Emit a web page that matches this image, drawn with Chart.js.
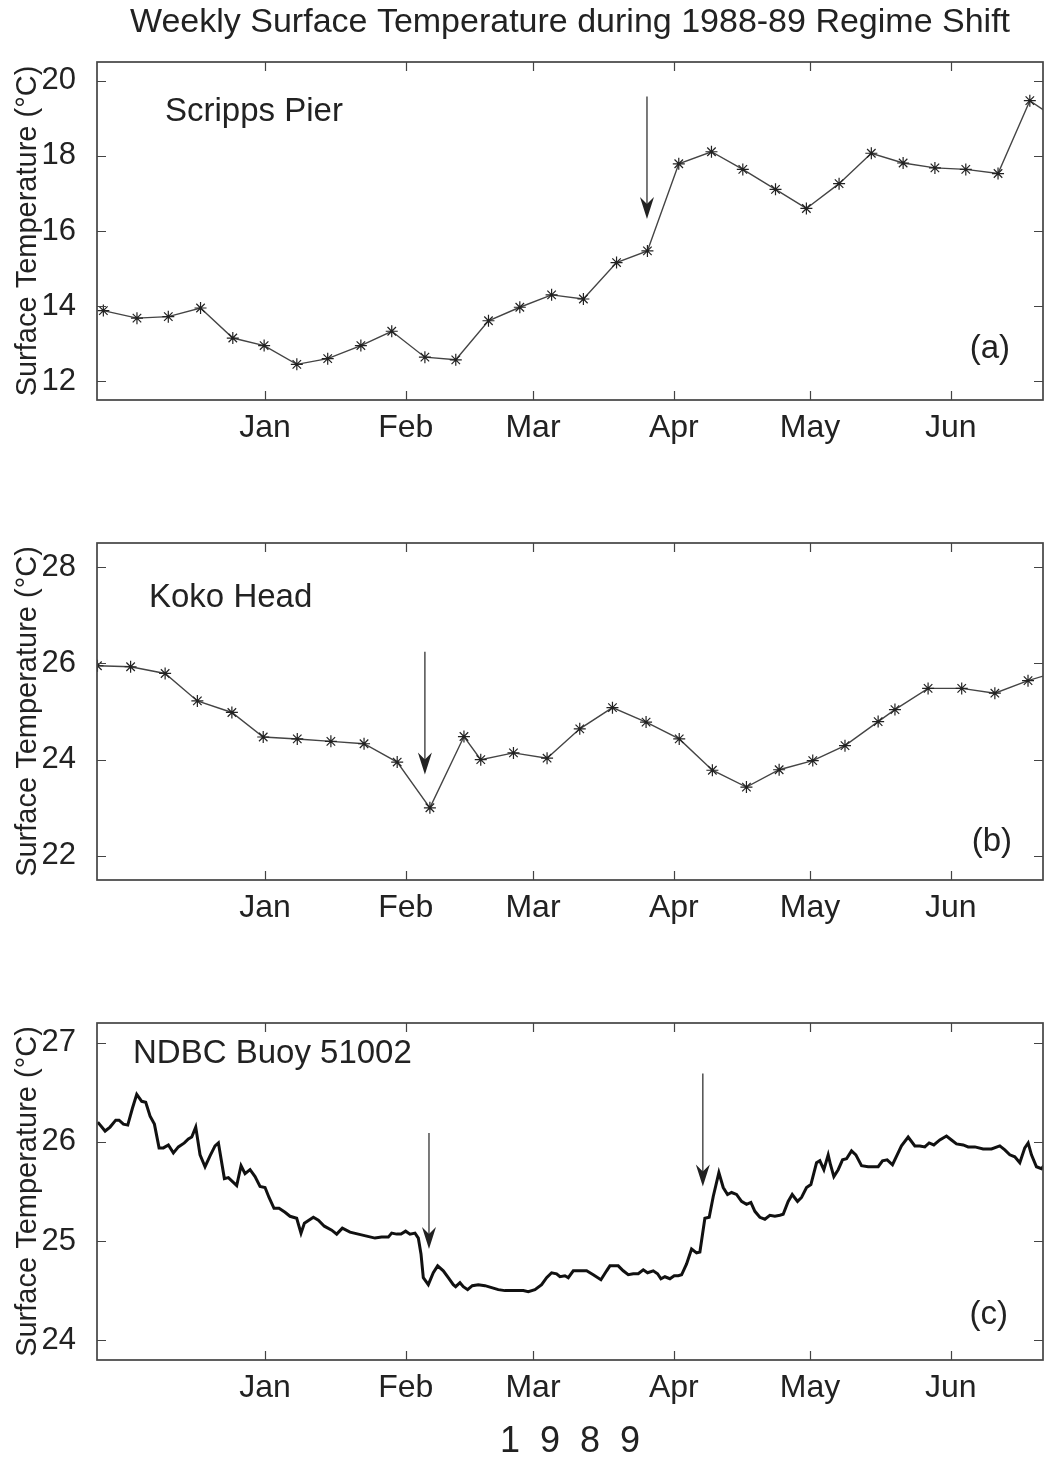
<!DOCTYPE html>
<html>
<head>
<meta charset="utf-8">
<script src="https://cdn.jsdelivr.net/npm/chart.js@4.4.0/dist/chart.umd.min.js"></script>
<style>
  html, body { margin: 0; padding: 0; background: #fff; }
  #wrap { position: relative; width: 1045px; height: 1458px; }
  canvas { position: absolute; left: 0; }
</style>
</head>
<body>
<div id="wrap">
  <canvas id="scrippsChart" width="1045" height="450" style="top:0"></canvas>
  <canvas id="kokoChart" width="1045" height="480" style="top:450px"></canvas>
  <canvas id="buoyChart" width="1045" height="528" style="top:930px"></canvas>
</div>
<script>
// x axis = days from 1 Jan 1989
const monthDays = [0, 31, 59, 90, 120, 151];
const monthLabels = ['Jan', 'Feb', 'Mar', 'Apr', 'May', 'Jun'];
const xMin = -37, xMax = 171.3;

// (a) Scripps Pier, weekly
const scrippsDays = [-35.6, -28.2, -21.3, -14.2, -7.1, -0.2, 7.0, 13.8, 21.1, 27.9, 35.2, 42.0, 49.2, 56.1, 63.1,
  70.1, 77.4, 84.2, 91.1, 98.3, 105.2, 112.4, 119.2, 126.4, 133.5, 140.5, 147.5, 154.3, 161.4, 168.4, 175.4];
const scrippsTemp = [13.88, 13.68, 13.72, 13.95, 13.15, 12.95, 12.45, 12.60, 12.95, 13.33, 12.64, 12.57, 13.61, 13.97, 14.30,
  14.19, 15.16, 15.47, 17.79, 18.11, 17.64, 17.11, 16.60, 17.26, 18.07, 17.81, 17.68, 17.64, 17.53, 19.47, 18.90];
const scrippsTicks = [12, 14, 16, 18, 20];

// (b) Koko Head, weekly
const kokoDays = [-36.9, -29.6, -22.0, -14.9, -7.3, -0.4, 7.1, 14.5, 21.8, 29.1, 36.3, 43.8, 47.5, 54.7, 62.1,
  69.3, 76.5, 83.9, 91.2, 98.5, 106.0, 113.2, 120.6, 127.7, 135.0, 138.7, 146.0, 153.4, 160.7, 168.0, 175.3];
const kokoTemp = [25.95, 25.93, 25.79, 25.22, 24.98, 24.47, 24.43, 24.38, 24.33, 23.95, 23.00, 24.48, 24.00, 24.14, 24.03,
  24.64, 25.08, 24.78, 24.43, 23.78, 23.43, 23.79, 23.98, 24.29, 24.79, 25.04, 25.48, 25.48, 25.38, 25.64, 25.85];
const kokoTicks = [22, 24, 26, 28];

// (c) NDBC Buoy 51002, daily-ish
const buoyDays = [-36.83, -35.22, -34.12, -32.87, -32.14, -31.18, -30.23, -29.20, -28.25, -27.15, -26.27, -25.31,
  -24.36, -23.33, -22.38, -21.28, -20.18, -19.08, -17.76, -16.88, -16.14, -15.26, -14.31, -13.21, -12.11, -11.01,
  -10.27, -8.95, -8.07, -6.24, -5.28, -4.40, -3.30, -2.20, -1.10, 0.00, 0.88, 1.98, 3.08, 4.40, 5.50, 6.97, 7.92,
  8.66, 10.64, 11.74, 13.06, 14.68, 15.78, 17.02, 18.71, 20.54, 22.38, 24.21, 25.68, 27.15, 27.88, 28.98, 29.94,
  30.96, 31.92, 33.02, 33.75, 34.34, 34.85, 35.95, 37.05, 38.01, 39.25, 40.35, 41.45, 41.97, 42.92, 43.66, 44.61,
  45.64, 46.96, 48.43, 49.89, 51.36, 52.83, 54.30, 55.76, 56.86, 57.96, 59.43, 60.90, 62.00, 63.10, 64.20, 64.94,
  66.04, 66.77, 67.87, 69.34, 70.81, 72.27, 73.96, 75.21, 75.94, 77.77, 78.87, 79.98, 81.08, 82.18, 83.28, 84.23,
  85.48, 86.43, 87.17, 88.05, 89.15, 90.10, 90.98, 91.72, 92.82, 93.92, 95.02, 95.75, 96.85, 97.80, 98.69, 99.93,
  100.89, 101.84, 102.72, 103.82, 104.92, 106.02, 106.98, 107.86, 108.96, 110.06, 111.16, 112.26, 113.36, 114.09,
  115.19, 116.08, 117.25, 118.13, 119.23, 120.19, 121.43, 122.16, 123.05, 124.00, 124.51, 125.25, 126.20, 127.16,
  128.04, 129.14, 130.09, 131.34, 132.80, 135.01, 135.96, 136.99, 138.16, 139.19, 140.14, 141.61, 143.08, 144.18,
  145.28, 146.23, 147.26, 148.58, 150.05, 151.15, 152.25, 153.72, 154.82, 156.29, 158.12, 159.96, 161.79, 162.89,
  163.99, 165.09, 166.19, 167.29, 168.03, 168.76, 169.86, 170.96, 171.70];
const buoyTemp = [26.20, 26.11, 26.15, 26.22, 26.22, 26.18, 26.17, 26.34, 26.48, 26.41, 26.40, 26.26,
  26.18, 25.94, 25.94, 25.97, 25.89, 25.95, 25.99, 26.03, 26.05, 26.15, 25.87, 25.75, 25.86, 25.96,
  25.99, 25.63, 25.64, 25.56, 25.76, 25.68, 25.72, 25.65, 25.55, 25.54, 25.44, 25.33, 25.33, 25.29, 25.25, 25.23, 25.08,
  25.18, 25.24, 25.21, 25.15, 25.11, 25.07, 25.13, 25.09, 25.07, 25.05, 25.03, 25.04, 25.04, 25.08, 25.07, 25.07,
  25.10, 25.07, 25.08, 25.03, 24.87, 24.63, 24.56, 24.68, 24.75, 24.70, 24.63, 24.56, 24.54, 24.58, 24.54, 24.51,
  24.55, 24.56, 24.55, 24.53, 24.51, 24.50, 24.50, 24.50, 24.50, 24.49, 24.51, 24.56, 24.63, 24.68, 24.67, 24.64,
  24.65, 24.63, 24.70, 24.70, 24.70, 24.66, 24.61, 24.70, 24.75, 24.75, 24.70, 24.66, 24.67, 24.67, 24.71, 24.68,
  24.70, 24.67, 24.62, 24.64, 24.62, 24.65, 24.65, 24.66, 24.77, 24.92, 24.88, 24.89, 25.23, 25.24, 25.45, 25.69,
  25.54, 25.47, 25.49, 25.47, 25.40, 25.37, 25.39, 25.30, 25.24, 25.22, 25.26, 25.25, 25.26, 25.27,
  25.40, 25.47, 25.40, 25.44, 25.54, 25.57, 25.79, 25.81, 25.72, 25.87, 25.77, 25.65, 25.72, 25.82,
  25.83, 25.91, 25.87, 25.76, 25.75, 25.75, 25.81, 25.82, 25.77, 25.87, 25.96, 26.05, 25.96, 25.96,
  25.95, 25.99, 25.97, 26.02, 26.06, 26.02, 25.98, 25.97, 25.95, 25.95, 25.93, 25.93, 25.96, 25.92,
  25.87, 25.85, 25.79, 25.94, 25.99, 25.87, 25.75, 25.73, 25.77];
const buoyTicks = [24, 25, 26, 27];

const FONT = "'Liberation Sans', Arial, Helvetica, sans-serif";
const TEXT = '#222';

// box, inward ticks, arrows and in-panel labels
const decor = {
  id: 'decor',
  afterDatasetsDraw(chart, args, o) {
    const { ctx, chartArea: a, scales: { x, y } } = chart;
    ctx.save();
    ctx.strokeStyle = '#444';
    ctx.lineWidth = 1.7;
    ctx.strokeRect(a.left, a.top, a.right - a.left, a.bottom - a.top);
    ctx.beginPath();
    x.ticks.forEach(t => {
      const px = Math.round(x.getPixelForValue(t.value)) + 0.5;
      ctx.moveTo(px, a.bottom); ctx.lineTo(px, a.bottom - 9);
      ctx.moveTo(px, a.top); ctx.lineTo(px, a.top + 9);
    });
    y.ticks.forEach(t => {
      const py = Math.round(y.getPixelForValue(t.value)) + 0.5;
      ctx.moveTo(a.left, py); ctx.lineTo(a.left + 9, py);
      ctx.moveTo(a.right, py); ctx.lineTo(a.right - 9, py);
    });
    ctx.lineWidth = 1.2;
    ctx.stroke();

    // arrows
    ctx.strokeStyle = '#333';
    ctx.fillStyle = '#222';
    (o.arrows || []).forEach(ar => {
      const px = x.getPixelForValue(ar.day);
      const y0 = y.getPixelForValue(ar.from);
      const y1 = y.getPixelForValue(ar.to);
      ctx.lineWidth = 1.3;
      ctx.beginPath();
      ctx.moveTo(px, y0); ctx.lineTo(px, y1 - 12);
      ctx.stroke();
      ctx.beginPath();
      ctx.moveTo(px, y1);
      ctx.lineTo(px - 7, y1 - 22);
      ctx.lineTo(px, y1 - 15);
      ctx.lineTo(px + 7, y1 - 22);
      ctx.closePath();
      ctx.fill();
    });

    // labels
    ctx.fillStyle = TEXT;
    ctx.font = '33px ' + FONT;
    ctx.textBaseline = 'middle';
    ctx.textAlign = 'left';
    ctx.fillText(o.name, a.left + o.nameDx, a.top + o.nameDy);
    ctx.textAlign = 'right';
    ctx.fillText(o.tag, a.right - o.tagDx, a.bottom - o.tagDy);
    ctx.restore();
  }
};

function makePanel(id, p) {
  return new Chart(document.getElementById(id), {
    type: 'line',
    data: {
      datasets: [{
        data: p.days.map((d, i) => ({ x: d, y: p.temps[i] })),
        borderColor: p.lineColor,
        borderWidth: p.lineWidth,
        pointStyle: 'star',
        pointRadius: p.markers ? 6 : 0,
        pointBorderColor: '#222',
        pointBorderWidth: 1.2,
        tension: 0,
        fill: false,
        clip: 0
      }]
    },
    options: {
      responsive: false,
      animation: false,
      events: [],
      layout: { autoPadding: false, padding: { top: p.padTop, right: 2, left: 0, bottom: 0 } },
      plugins: {
        legend: { display: false },
        tooltip: { enabled: false },
        title: p.title ? {
          display: true, text: p.title, color: TEXT, fullSize: false,
          font: { family: FONT, size: 34, weight: 'normal', lineHeight: 1.2 },
          padding: { top: 2, bottom: 19.2 }
        } : { display: false },
        decor: p.decor
      },
      scales: {
        x: {
          type: 'linear', min: xMin, max: xMax,
          grid: { display: false }, border: { display: false },
          afterBuildTicks: s => { s.ticks = monthDays.map(v => ({ value: v })); },
          ticks: {
            autoSkip: false, maxRotation: 0, padding: 1, color: TEXT,
            font: { family: FONT, size: 32 },
            callback: (v, i) => monthLabels[i]
          },
          title: p.bottomTitle ? {
            display: true, text: p.bottomTitle, color: TEXT,
            font: { family: FONT, size: 36, lineHeight: 1 },
            padding: { top: 0, bottom: -2 }
          } : { display: false },
          afterFit: s => { s.height = p.xAxisHeight; }
        },
        y: {
          type: 'linear', min: p.yMin, max: p.yMax,
          grid: { display: false }, border: { display: false },
          afterBuildTicks: s => { s.ticks = p.yTicks.map(v => ({ value: v })); },
          ticks: { padding: 13, color: TEXT, font: { family: FONT, size: 31 } },
          title: {
            display: true, text: 'Surface Temperature (\u00B0C)', color: TEXT,
            font: { family: FONT, size: 29, lineHeight: 1.2 },
            padding: { top: 11, bottom: 0 }
          },
          afterFit: s => { s.width = 97; }
        }
      }
    },
    plugins: [decor]
  });
}

makePanel('scrippsChart', {
  days: scrippsDays, temps: scrippsTemp, yTicks: scrippsTicks, yMin: 11.5, yMax: 20.5,
  lineColor: '#444', lineWidth: 1.4, markers: true, padTop: 0, xAxisHeight: 50,
  title: 'Weekly Surface Temperature during 1988-89 Regime Shift',
  decor: { name: 'Scripps Pier', nameDx: 68, nameDy: 50, tag: '(a)', tagDx: 33, tagDy: 51,
    arrows: [{ day: 84.1, from: 19.58, to: 16.32 }] }
});

makePanel('kokoChart', {
  days: kokoDays, temps: kokoTemp, yTicks: kokoTicks, yMin: 21.5, yMax: 28.5,
  lineColor: '#444', lineWidth: 1.4, markers: true, padTop: 93, xAxisHeight: 50,
  decor: { name: 'Koko Head', nameDx: 52, nameDy: 55, tag: '(b)', tagDx: 31, tagDy: 38,
    arrows: [{ day: 35.2, from: 26.24, to: 23.69 }] }
});

makePanel('buoyChart', {
  days: buoyDays, temps: buoyTemp, yTicks: buoyTicks, yMin: 23.8, yMax: 27.2,
  lineColor: '#111', lineWidth: 3, markers: false, padTop: 93, xAxisHeight: 98,
  bottomTitle: '1  9  8  9',
  decor: { name: 'NDBC Buoy 51002', nameDx: 36, nameDy: 31, tag: '(c)', tagDx: 35, tagDy: 45,
    arrows: [{ day: 36.1, from: 26.09, to: 24.92 }, { day: 96.4, from: 26.69, to: 25.55 }] }
});
</script>
</body>
</html>
